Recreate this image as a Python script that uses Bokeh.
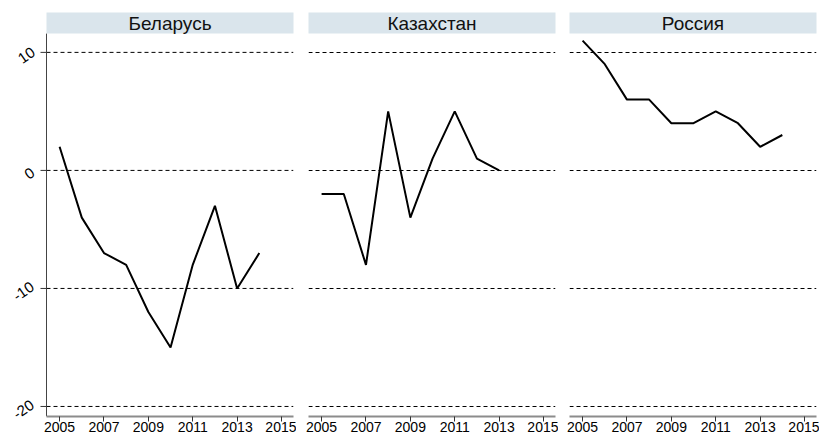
from bokeh.plotting import figure
from bokeh.layouts import row
from bokeh.models import FixedTicker, Range1d, ColumnDataSource
from bokeh.embed import file_html
from bokeh.resources import INLINE
from bokeh.core.properties import value

# ---- data ----
countries = ["Беларусь", "Казахстан", "Россия"]
years_belarus = [2005, 2006, 2007, 2008, 2009, 2010, 2011, 2012, 2013, 2014]
belarus = [2, -4, -7, -8, -12, -15, -8, -3, -10, -7]
years_kazakhstan = [2005, 2006, 2007, 2008, 2009, 2010, 2011, 2012, 2013]
kazakhstan = [-2, -2, -8, 5, -4, 1, 5, 1, 0]
years_russia = [2005, 2006, 2007, 2008, 2009, 2010, 2011, 2012, 2013, 2014]
russia = [11, 9, 6, 6, 4, 4, 5, 4, 2, 3]
x_ticks = [2005, 2007, 2009, 2011, 2013, 2015]
y_ticks = [-20, -10, 0, 10]
y_tick_labels = ["-20", "-10", "0", "10"]

series = [(years_belarus, belarus), (years_kazakhstan, kazakhstan), (years_russia, russia)]

# ---- layout / style ----
X0, X1 = 2004.41, 2015.54
Y_TOP, Y_BOT = 11.6, -20.85
PLOT_H = 383
STRIP_H = 21
FRAME_W = 247
AXIS_W = 46          # room for the y axis labels inside panel 1
px_x = (X1 - X0) / FRAME_W
y_end = Y_TOP + STRIP_H * (Y_TOP - Y_BOT) / PLOT_H
STRIP_COLOR = "#dae5ec"
FONT = "Liberation Sans"
GRID_DASH = "4 3"
LABEL_ANGLE = 35
left_borders = [0, 12, 11]

figs = []
for i, (name, (xs, ys)) in enumerate(zip(countries, series)):
    first = i == 0
    x_start = X0 - AXIS_W * px_x if first else X0
    p = figure(frame_width=FRAME_W + (AXIS_W if first else 0),
               frame_height=PLOT_H + STRIP_H,
               x_range=Range1d(x_start, X1), y_range=Range1d(Y_BOT, y_end),
               output_backend="svg", toolbar_location=None,
               min_border_left=left_borders[i], min_border_right=3,
               min_border_top=12, min_border_bottom=0,
               background_fill_color="white", border_fill_color="white")
    p.outline_line_color = None
    p.xgrid.visible = False

    # x axis
    xa = p.xaxis[0]
    xa.ticker = FixedTicker(ticks=x_ticks)
    xa.bounds = (X0, X1)
    xa.minor_tick_line_color = None
    xa.major_tick_in = 0
    xa.major_tick_out = 5
    xa.major_tick_line_color = "#333333"
    xa.axis_line_color = "#8c8c8c"
    xa.axis_line_width = 2
    xa.major_label_text_font = FONT
    xa.major_label_text_font_size = "14px"
    xa.major_label_text_color = "black"
    xa.major_label_standoff = 0

    ya = p.yaxis[0]
    ya.ticker = FixedTicker(ticks=y_ticks)
    ya.visible = False

    if first:
        p.ygrid.visible = False
        # dashed grid lines, only over the plotting region
        p.segment(x0=[X0] * len(y_ticks), x1=[X1] * len(y_ticks), y0=y_ticks, y1=y_ticks,
                  line_color="black", line_width=1, line_dash=GRID_DASH)
        # y axis line and ticks
        p.segment(x0=[X0], x1=[X0], y0=[Y_BOT], y1=[Y_TOP], line_color="#444444", line_width=1)
        p.segment(x0=[X0 - 6 * px_x] * len(y_ticks), x1=[X0] * len(y_ticks),
                  y0=y_ticks, y1=y_ticks, line_color="#333333", line_width=1)
        # rotated tick labels
        lab = ColumnDataSource(dict(
            x=[X0] * len(y_ticks), y=y_ticks, text=y_tick_labels,
            xo=[-(14 + 3.0 * len(s)) for s in y_tick_labels]))
        p.text(x="x", y="y", text="text", source=lab, x_offset="xo", y_offset=3,
               angle=LABEL_ANGLE, angle_units="deg", text_align="center",
               text_baseline="middle",
               text_font=value(FONT), text_font_size="15px", text_color="black")
    else:
        p.ygrid.ticker = FixedTicker(ticks=y_ticks)
        p.ygrid.grid_line_color = "black"
        p.ygrid.grid_line_dash = GRID_DASH
        p.ygrid.grid_line_width = 1

    # strip header
    strip = p.quad(left=[X0], right=[X1], bottom=[Y_TOP], top=[y_end],
                   fill_color=STRIP_COLOR, line_color=None)
    strip.level = "overlay"
    t = p.text(x=[(X0 + X1) / 2], y=[(Y_TOP + y_end) / 2], text=[name],
               text_font=value(FONT), text_font_size="19px", text_color="#111111",
               text_align="center", text_baseline="middle")
    t.level = "overlay"

    p.line(xs, ys, line_color="black", line_width=2)
    figs.append(p)

layout = row(*figs)
open("out.html", "w").write(file_html(layout, INLINE))
